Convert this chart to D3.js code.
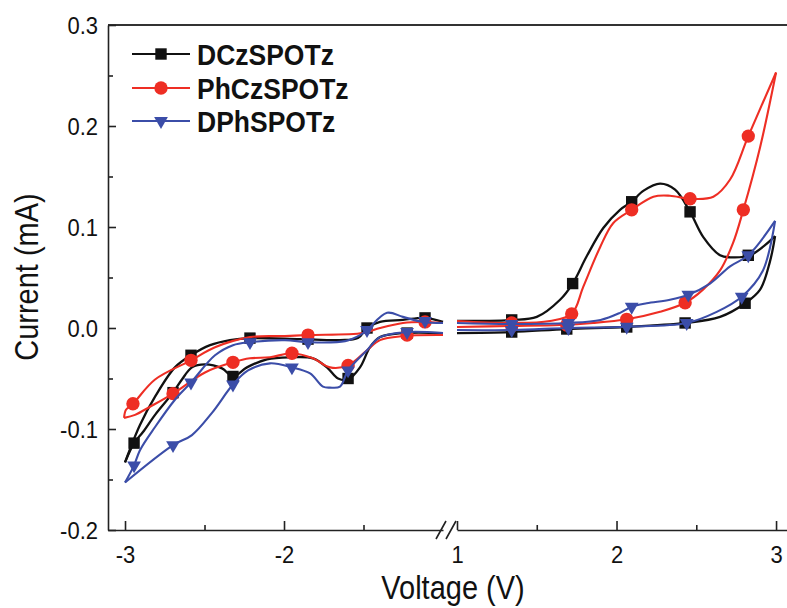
<!DOCTYPE html>
<html>
<head>
<meta charset="utf-8">
<script src="https://cdn.jsdelivr.net/npm/d3@7"></script>
<style>
  body { margin: 0; background: #fff; }
  svg { display: block; }
  text { font-family: "Liberation Sans", Arial, sans-serif; }
</style>
</head>
<body>
<svg id="cv" width="787" height="608"></svg>
<script>
// values: [voltage (V), current (mA)]
const seriesNames = ["DCzSPOTz", "PhCzSPOTz", "DPhSPOTz"];

const yTicks = [-0.2, -0.1, 0.0, 0.1, 0.2, 0.3];
const yTickLabels = ["-0.2", "-0.1", "0.0", "0.1", "0.2", "0.3"];
const yMinorTicks = [-0.15, -0.05, 0.05, 0.15, 0.25];
const xTicksNeg = [-3, -2];
const xTickLabelsNeg = ["-3", "-2"];
const xMinorNeg = [-2.5, -1.5];
const xTicksPos = [1, 2, 3];
const xTickLabelsPos = ["1", "2", "3"];
const xMinorPos = [1.5, 2.5];

// DCzSPOTz
const dczNegFwd = [[-1.0,-0.005],[-1.252,-0.005],[-1.396,-0.009],[-1.459,-0.019],[-1.522,-0.039],[-1.597,-0.051],[-1.660,-0.050],[-1.730,-0.039],[-1.818,-0.030],[-1.962,-0.029],[-2.107,-0.031],[-2.233,-0.039],[-2.321,-0.048],[-2.390,-0.040],[-2.497,-0.036],[-2.579,-0.039],[-2.642,-0.051],[-2.698,-0.064],[-2.811,-0.086],[-2.887,-0.103],[-2.943,-0.114],[-3.0,-0.133]];
const dczNegRev = [[-3.0,-0.133],[-2.906,-0.096],[-2.811,-0.068],[-2.686,-0.039],[-2.585,-0.027],[-2.465,-0.017],[-2.340,-0.012],[-2.214,-0.010],[-1.899,-0.011],[-1.648,-0.012],[-1.535,-0.010],[-1.478,0.0],[-1.396,0.006],[-1.252,0.008],[-1.113,0.010],[-1.0,0.006]];
const dczPosFwd = [[1.0,0.007],[1.343,0.008],[1.5,0.011],[1.646,0.028],[1.725,0.044],[1.813,0.071],[1.917,0.099],[2.022,0.117],[2.095,0.125],[2.170,0.136],[2.273,0.143],[2.367,0.137],[2.461,0.115],[2.544,0.090],[2.649,0.072],[2.712,0.070],[2.837,0.072],[2.994,0.091]];
const dczPosRev = [[2.994,0.091],[2.962,0.066],[2.9,0.038],[2.806,0.0245],[2.649,0.011],[2.43,0.005],[2.064,0.001],[1.688,-0.001],[1.343,-0.004],[1.0,-0.005]];
const dczMarks = [[-2.943,-0.114],[-2.698,-0.064],[-2.585,-0.027],[-2.321,-0.048],[-2.214,-0.010],[-1.849,-0.011],[-1.597,-0.050],[-1.478,0.0],[-1.226,-0.005],[-1.113,0.010],[1.343,0.008],[1.343,-0.004],[1.725,0.044],[1.688,-0.001],[2.095,0.125],[2.064,0.001],[2.461,0.115],[2.43,0.005],[2.806,0.0245],[2.826,0.072]];

// PhCzSPOTz
const phNegFwd = [[-1.0,-0.007],[-1.252,-0.008],[-1.396,-0.012],[-1.478,-0.022],[-1.597,-0.037],[-1.711,-0.039],[-1.818,-0.030],[-1.950,-0.025],[-2.088,-0.029],[-2.214,-0.030],[-2.321,-0.034],[-2.497,-0.044],[-2.698,-0.065],[-2.843,-0.078],[-2.937,-0.086],[-3.006,-0.089]];
const phNegRev = [[-3.006,-0.089],[-2.994,-0.081],[-2.950,-0.075],[-2.811,-0.051],[-2.585,-0.032],[-2.434,-0.019],[-2.214,-0.009],[-1.994,-0.008],[-1.849,-0.007],[-1.503,-0.005],[-1.396,0.0],[-1.252,0.005],[-1.126,0.006],[-1.0,0.005]];
const phPosFwd = [[1.0,0.007],[1.343,0.005],[1.583,0.007],[1.719,0.014],[1.792,0.041],[1.897,0.080],[1.98,0.104],[2.095,0.117],[2.231,0.130],[2.335,0.131],[2.461,0.128],[2.607,0.130],[2.712,0.147],[2.826,0.190],[3.0,0.253]];
const phPosRev = [[3.0,0.253],[2.9,0.179],[2.795,0.117],[2.73,0.084],[2.649,0.057],[2.542,0.038],[2.43,0.025],[2.273,0.016],[2.064,0.0086],[1.853,0.005],[1.646,0.003],[1.343,0.002],[1.0,0.001]];
const phMarks = [[-2.950,-0.075],[-2.698,-0.065],[-2.585,-0.032],[-2.321,-0.034],[-1.950,-0.025],[-1.849,-0.007],[-1.597,-0.037],[-1.226,-0.007],[-1.113,0.006],[1.343,0.005],[1.343,0.002],[1.719,0.014],[1.688,0.003],[2.095,0.117],[2.064,0.0086],[2.461,0.128],[2.43,0.025],[2.826,0.190],[2.795,0.117]];

// DPhSPOTz
const dphNegFwd = [[-1.0,-0.005],[-1.226,-0.004],[-1.396,-0.009],[-1.478,-0.022],[-1.597,-0.042],[-1.648,-0.058],[-1.711,-0.059],[-1.755,-0.058],[-1.836,-0.045],[-1.950,-0.039],[-2.088,-0.035],[-2.226,-0.042],[-2.321,-0.056],[-2.453,-0.084],[-2.579,-0.106],[-2.698,-0.116],[-3.0,-0.153]];
const dphNegRev = [[-3.0,-0.153],[-2.943,-0.136],[-2.906,-0.121],[-2.811,-0.098],[-2.686,-0.071],[-2.585,-0.054],[-2.434,-0.027],[-2.321,-0.017],[-2.214,-0.014],[-1.994,-0.012],[-1.849,-0.014],[-1.616,-0.013],[-1.522,-0.007],[-1.478,-0.002],[-1.352,0.015],[-1.252,0.011],[-1.126,0.006],[-1.0,0.005]];
const dphPosFwd = [[1.0,0.005],[1.343,0.004],[1.698,0.005],[1.900,0.008],[2.022,0.015],[2.095,0.021],[2.189,0.0245],[2.335,0.028],[2.45,0.033],[2.586,0.044],[2.712,0.061],[2.826,0.072],[2.994,0.106]];
const dphPosRev = [[2.994,0.106],[2.918,0.057],[2.785,0.031],[2.628,0.016],[2.44,0.005],[2.064,0.0013],[1.698,0.0],[1.343,-0.002],[1.0,-0.002]];
const dphMarks = [[-2.943,-0.136],[-2.698,-0.116],[-2.585,-0.054],[-2.321,-0.056],[-2.214,-0.014],[-1.950,-0.039],[-1.849,-0.014],[-1.597,-0.042],[-1.478,-0.002],[-1.226,-0.004],[-1.113,0.007],[1.343,0.004],[1.343,-0.002],[1.698,0.005],[1.698,0.0],[2.095,0.021],[2.064,0.0013],[2.45,0.033],[2.44,0.005],[2.826,0.072],[2.785,0.031]];

window.onload = function() {
   drawChart();
}

function drawChart() {
   let svg = d3.select("svg#cv");
   let font = "'Liberation Sans', Arial, sans-serif";
   // the source figure's lettering is a bit taller than it is wide
   let k = 1.12;

   // broken x axis: two linear pieces
   let xNeg = d3.scaleLinear().domain([-3.107, -1]).range([108, 443]);
   let xPos = d3.scaleLinear().domain([1, 3.1]).range([457, 792]);
   let y = d3.scaleLinear().domain([-0.2, 0.3]).range([530, 25]);
   let xv = v => v < 0 ? xNeg(v) : xPos(v);

   let colors = ["#111111", "#ee2e24", "#3b4da8"];
   let symbols = [
      d3.symbol().type(d3.symbolSquare).size(130),
      d3.symbol().type(d3.symbolCircle).size(140),
      d3.symbol().type(d3.symbolTriangle).size(82)
   ];
   let rot = [0, 0, 180];

   // top frame
   svg.append("line")
      .attr("x1", 108).attr("x2", 787).attr("y1", 25).attr("y2", 25)
      .attr("stroke", "#333").attr("stroke-width", 2);

   // left axis
   let yAxis = svg.append("g")
      .attr("transform", "translate(108,0)")
      .call(d3.axisLeft(y).tickValues(yTicks)
         .tickFormat((d, i) => yTickLabels[i])
         .tickSize(-8).tickSizeOuter(0).tickPadding(10));
   svg.append("g")
      .attr("transform", "translate(108,0)")
      .call(d3.axisLeft(y).tickValues(yMinorTicks).tickFormat("").tickSize(-5))
      .call(g => g.select(".domain").remove());

   // bottom axes
   let xAxisNeg = svg.append("g")
      .attr("transform", "translate(0,530)")
      .call(d3.axisBottom(xNeg).tickValues(xTicksNeg)
         .tickFormat((d, i) => xTickLabelsNeg[i])
         .tickSize(-9).tickSizeOuter(0));
   let xAxisPos = svg.append("g")
      .attr("transform", "translate(0,530)")
      .call(d3.axisBottom(xPos).tickValues(xTicksPos)
         .tickFormat((d, i) => xTickLabelsPos[i])
         .tickSize(-9).tickSizeOuter(0));
   svg.append("g")
      .attr("transform", "translate(0,530)")
      .call(d3.axisBottom(xNeg).tickValues(xMinorNeg).tickFormat("").tickSize(-5))
      .call(g => g.select(".domain").remove());
   svg.append("g")
      .attr("transform", "translate(0,530)")
      .call(d3.axisBottom(xPos).tickValues(xMinorPos).tickFormat("").tickSize(-5))
      .call(g => g.select(".domain").remove());

   svg.selectAll(".tick line, .domain")
      .attr("stroke", "#222").attr("stroke-width", 1.6);
   [yAxis, xAxisNeg, xAxisPos].forEach(g => g
      .attr("font-size", 22).attr("font-family", font)
      .selectAll("text").attr("fill", "#111"));

   // stretch tick labels vertically, keeping their baselines
   yAxis.selectAll(".tick text")
      .attr("dy", null)
      .attr("y", 8.5 / k)
      .attr("transform", "scale(1," + k + ")");
   [xAxisNeg, xAxisPos].forEach(g => g.selectAll(".tick text")
      .attr("dy", null)
      .attr("y", 33 / k)
      .attr("transform", "scale(1," + k + ")"));

   // axis break marks
   svg.append("path")
      .attr("d", "M436,539L446,521M446,539L456,521")
      .attr("stroke", "#222").attr("stroke-width", 1.6).attr("fill", "none");

   // axis titles
   svg.append("text")
      .attr("transform", "translate(453,599) scale(1," + k + ")")
      .attr("text-anchor", "middle")
      .attr("font-size", 29).attr("fill", "#111")
      .text("Voltage (V)");
   svg.append("text")
      .attr("transform", "translate(38,277) rotate(-90) scale(1," + k + ")")
      .attr("text-anchor", "middle")
      .attr("font-size", 29).attr("fill", "#111")
      .text("Current (mA)");

   // curves
   let line = d3.line()
      .x(d => xv(d[0]))
      .y(d => y(d[1]))
      .curve(d3.curveCatmullRom.alpha(0.5));

   let branches = [
      [dczNegFwd, dczNegRev, dczPosFwd, dczPosRev],
      [phNegFwd, phNegRev, phPosFwd, phPosRev],
      [dphNegFwd, dphNegRev, dphPosFwd, dphPosRev]
   ];
   let marks = [dczMarks, phMarks, dphMarks];

   branches.forEach((set, s) => {
      let g = svg.append("g");
      g.selectAll("path.curve")
         .data(set)
         .join("path")
            .attr("class", "curve")
            .attr("d", line)
            .attr("fill", "none")
            .attr("stroke", colors[s])
            .attr("stroke-width", s == 0 ? 2.3 : 2.1);
      g.selectAll("path.mark")
         .data(marks[s])
         .join("path")
            .attr("class", "mark")
            .attr("d", symbols[s])
            .attr("transform", d => "translate(" + xv(d[0]) + "," + y(d[1]) + ") rotate(" + rot[s] + ")")
            .attr("fill", colors[s]);
   });

   // legend
   let legend = svg.append("g");
   let rowY = [54, 88, 121];
   seriesNames.forEach((name, i) => {
      legend.append("line")
         .attr("x1", 132).attr("x2", 190).attr("y1", rowY[i]).attr("y2", rowY[i])
         .attr("stroke", colors[i]).attr("stroke-width", 2);
      legend.append("path")
         .attr("d", symbols[i])
         .attr("transform", "translate(161," + rowY[i] + ") rotate(" + rot[i] + ")")
         .attr("fill", colors[i]);
      legend.append("text")
         .attr("transform", "translate(197," + (rowY[i] + 11) + ") scale(1," + k + ")")
         .attr("font-size", 26.5).attr("font-weight", "bold").attr("fill", "#111")
         .text(name);
   });
}
</script>
</body>
</html>
